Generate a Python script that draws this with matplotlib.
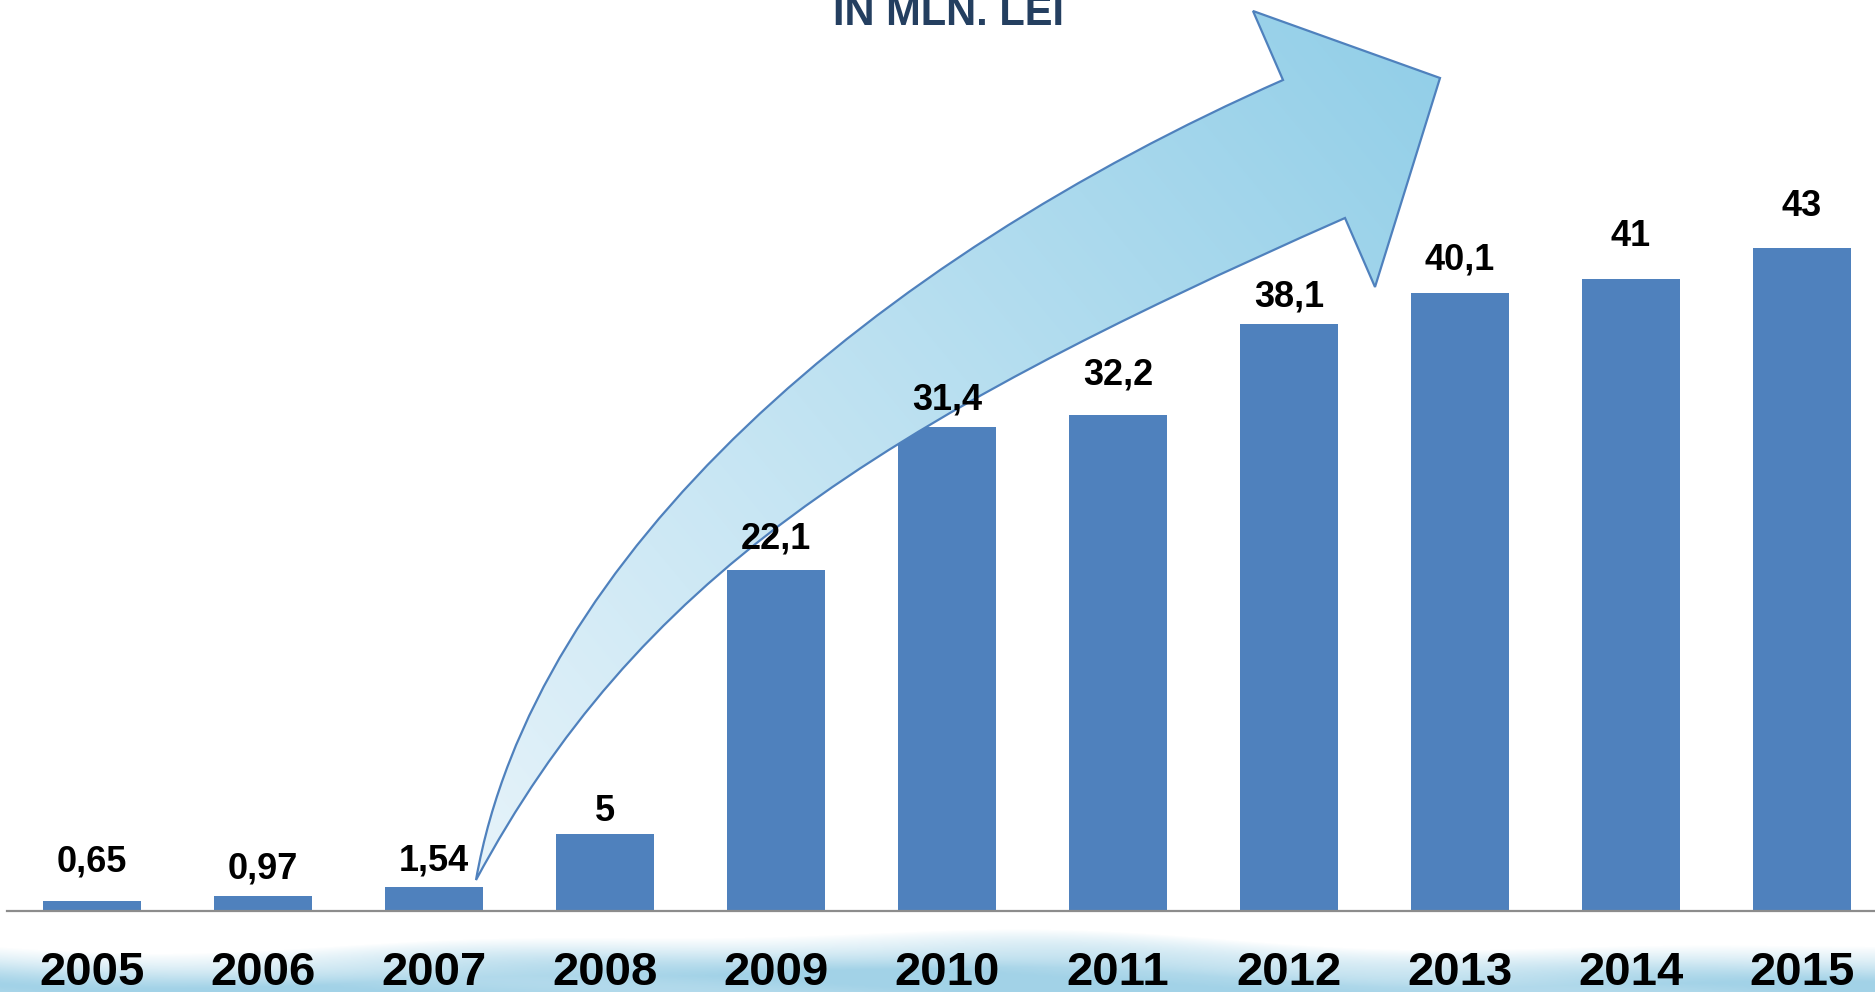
import numpy as np
import matplotlib.pyplot as plt
import matplotlib.transforms as mtransforms
from matplotlib.path import Path
from matplotlib.patches import PathPatch
from matplotlib.colors import to_rgb

plt.rcParams['font.family'] = ['Liberation Sans', 'DejaVu Sans']

# data
years = ['2005', '2006', '2007', '2008', '2009', '2010',
         '2011', '2012', '2013', '2014', '2015']
values = [0.65, 0.97, 1.54, 5, 22.1, 31.4, 32.2, 38.1, 40.1, 41, 43]
value_labels = ['0,65', '0,97', '1,54', '5', '22,1', '31,4',
                '32,2', '38,1', '40,1', '41', '43']
# how high each value label sits above its bar, in pixels
label_lift = [29, 18, 17, 13, 22, 18, 30, 17, 24, 33, 32]

W, H = 1875, 992
BAR = '#4f81bd'

fig = plt.figure(figsize=(W / 100, H / 100), dpi=100)
# pixel coords measured from the top-left corner of the figure
px = mtransforms.Affine2D().scale(1 / W, -1 / H).translate(0, 1) + fig.transFigure

# soft blue band along the bottom edge
bg = fig.add_axes([0, 0, 1, 1], zorder=0)
bg.axis('off')
xs = np.arange(W)
ys = np.arange(920, H)
X, Y = np.meshgrid(xs, ys)
edge = 940 + 9 * np.sin(X / 230.0 + 0.8) + 4 * np.sin(X / 97.0)
alpha = np.clip((Y - edge) / 38.0, 0, 1) ** 0.9 * 0.95
streak = 0.12 * np.sin(X / 140.0 - Y / 9.0) * np.clip((Y - edge) / 38.0, 0, 1)
band = np.zeros(Y.shape + (4,))
band[..., :3] = to_rgb('#a2d2e7')
band[..., 3] = np.clip(alpha - streak, 0, 1)
bg.imshow(band, extent=(0, W, H, 920), aspect='auto', interpolation='bilinear')
bg.set_xlim(0, W)
bg.set_ylim(H, 0)

# bar chart
ax = fig.add_axes([7 / W, 81 / H, (W - 7) / W, 911 / H], zorder=1)
ax.patch.set_alpha(0)
x = np.arange(len(years))
ax.bar(x, values, width=0.573, color=BAR, zorder=2)

for side in ['top', 'right', 'left']:
    ax.spines[side].set_visible(False)
ax.spines['bottom'].set_color('#8c8c8c')
ax.spines['bottom'].set_linewidth(1.6)
ax.set_xticks([])
ax.set_yticks([])

for i, yr in enumerate(years):
    ax.text(i, -(985 - 911) / 911, yr, transform=ax.get_xaxis_transform(),
            ha='center', va='baseline', fontsize=34, fontweight='bold')

for i, (v, lbl) in enumerate(zip(values, value_labels)):
    ax.annotate(lbl, (i, v), xytext=(0, label_lift[i]), textcoords='offset pixels',
                ha='center', va='baseline', fontsize=26, fontweight='bold', zorder=5)

# big curved growth arrow
tail = (476, 880)
verts = [tail, (533, 555), (871, 262), (1283, 80),
         (1253, 11), (1440, 78), (1375, 287), (1345, 218),
         (869, 428), (637, 581), tail, tail]
codes = [Path.MOVETO, Path.CURVE4, Path.CURVE4, Path.CURVE4,
         Path.LINETO, Path.LINETO, Path.LINETO, Path.LINETO,
         Path.CURVE4, Path.CURVE4, Path.CURVE4, Path.CLOSEPOLY]
arrow = PathPatch(Path(verts, codes), transform=px, facecolor='none',
                  edgecolor=BAR, linewidth=1.6, zorder=4, clip_on=False)
ax.add_patch(arrow)

gx = np.linspace(470, 1445, 300)
gy = np.linspace(5, 885, 300)
GX, GY = np.meshgrid(gx, gy)
d = np.array([1440 - 476, 78 - 880], dtype=float)
t = ((GX - 476) * d[0] + (GY - 880) * d[1]) / (d @ d)
t = np.clip(t, 0, 1)[..., None]
c0 = np.array(to_rgb('#e6f3fa'))
c1 = np.array(to_rgb('#93cfe8'))
grad = c0 * (1 - t) + c1 * t
im = ax.imshow(grad, extent=(470, 1445, 885, 5), transform=px,
               aspect='auto', zorder=3, interpolation='bilinear')
im.set_clip_path(arrow)

ax.set_xlim((7 - 92) / 171, (W - 92) / 171)
ax.set_ylim(0, 911 / 15.41)

fig.text(948 / W, 1 - 25 / H, 'IN MLN. LEI', ha='center', va='baseline',
         fontsize=30, fontweight='bold', color='#243f60')

fig.savefig('out.png', dpi=100)
